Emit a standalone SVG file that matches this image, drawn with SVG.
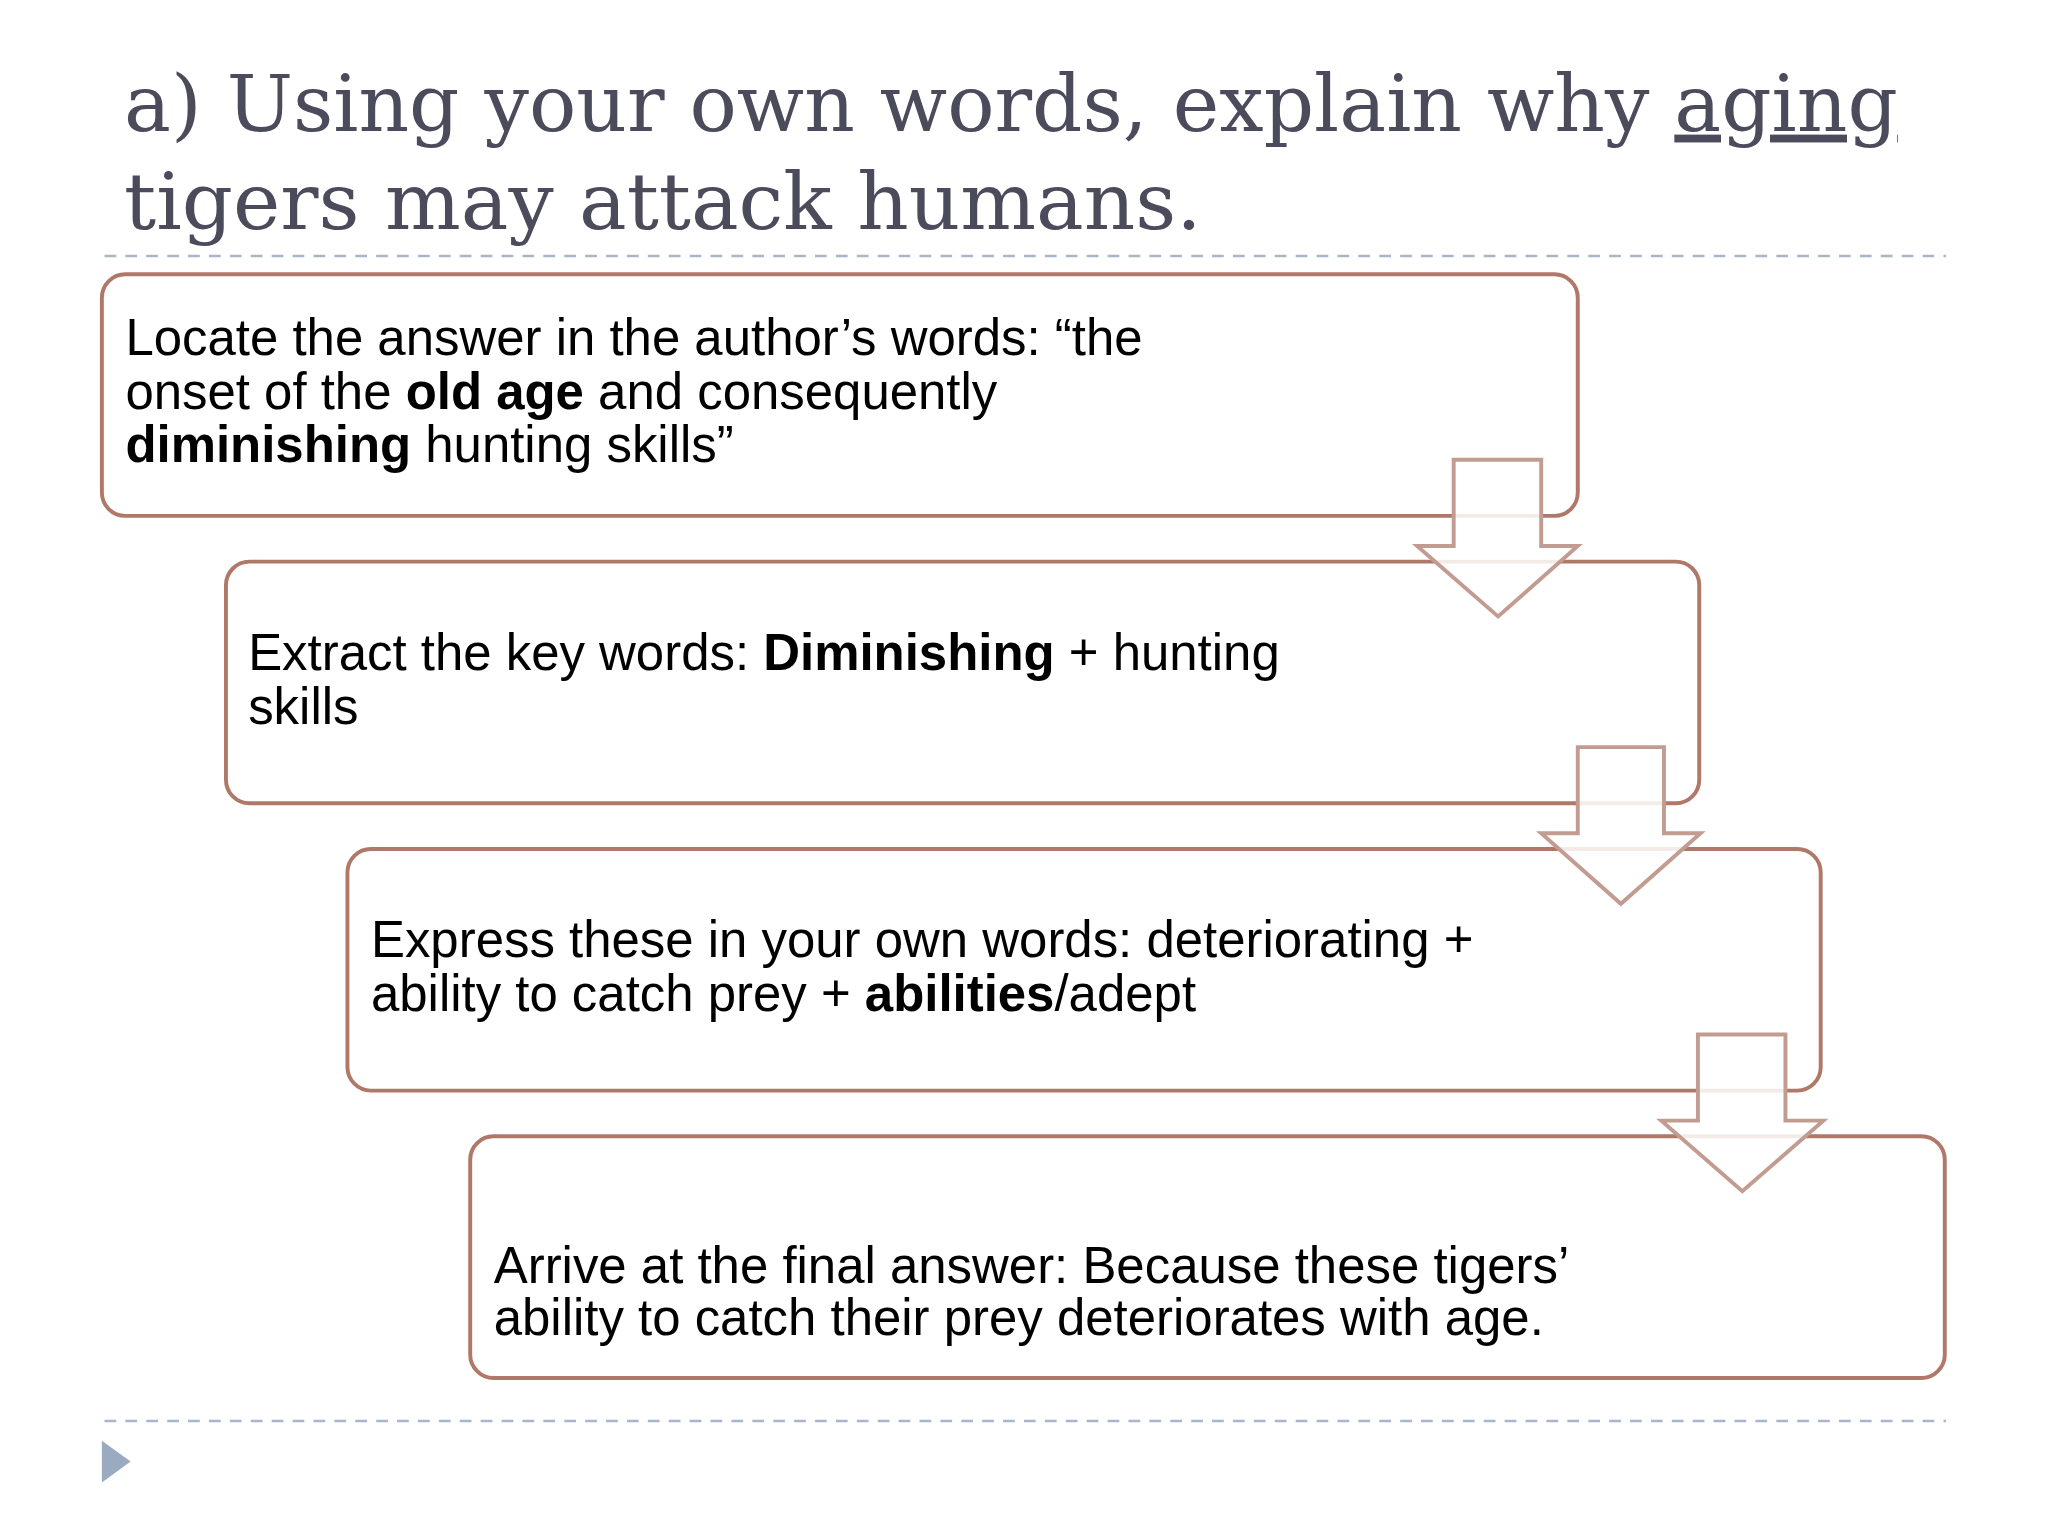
<svg xmlns="http://www.w3.org/2000/svg" width="2048" height="1536" viewBox="0 0 2048 1536">
<style>
.t{font-family:"DejaVu Serif","Liberation Serif",serif;font-size:60px;fill:#4b4b5b}
.b{fill:#fff;stroke:#b07868;stroke-width:3}
.x{font-family:"Liberation Sans",Arial,sans-serif;font-size:39px;fill:#000}
.a{fill:#fff;fill-opacity:0.85;stroke:#c29c90;stroke-width:3}
.d{stroke:#a9b6c9;stroke-width:2;stroke-dasharray:9 7}
</style>
<rect width="2048" height="1536" fill="#fff"/>
<g transform="scale(1.3061)">
<g id="title">
<text class="t" x="95" y="100" textLength="1358" lengthAdjust="spacingAndGlyphs">a) Using your own words, explain why <tspan text-decoration="underline">aging</tspan></text>
<text class="t" x="95" y="175" textLength="825" lengthAdjust="spacingAndGlyphs">tigers may attack humans.</text>
</g>
<line class="d" x1="80" y1="196" x2="1490" y2="196"/>
<line class="d" x1="80" y1="1088" x2="1490" y2="1088"/>
<polygon points="78,1103 78,1135 100,1119" fill="#9aaac0"/>
<g id="n1"><rect class="b" x="78" y="210" width="1130" height="185" rx="18"/>
<text class="x" x="96" y="272">Locate the answer in the author’s words:  “the</text>
<text class="x" x="96" y="313">onset of the <tspan font-weight="bold">old age</tspan> and consequently</text>
<text class="x" x="96" y="354"><tspan font-weight="bold">diminishing</tspan> hunting skills”</text></g>
<g id="n2"><rect class="b" x="173" y="430" width="1128" height="185" rx="18"/>
<text class="x" x="190" y="513">Extract the key words: <tspan font-weight="bold">Diminishing</tspan> + hunting</text>
<text class="x" x="190" y="554">skills</text></g>
<g id="n3"><rect class="b" x="266" y="650" width="1128" height="185" rx="18"/>
<text class="x" x="284" y="733">Express these in your own words: deteriorating +</text>
<text class="x" x="284" y="774">ability to catch prey + <tspan font-weight="bold">abilities</tspan>/adept</text></g>
<g id="n4"><rect class="b" x="360" y="870" width="1129" height="185" rx="18"/>
<text class="x" x="378" y="982">Arrive at the final answer:  Because these tigers’</text>
<text class="x" x="378" y="1022">ability to catch their prey deteriorates with age.</text></g>
<g id="connectors">
<polygon class="a" points="1113,352 1180,352 1180,418 1208,418 1147,472 1085,418 1113,418"/>
<polygon class="a" points="1208,572 1274,572 1274,638 1302,638 1241,692 1180,638 1208,638"/>
<polygon class="a" points="1300,792 1367,792 1367,858 1396,858 1334,912 1272,858 1300,858"/>
</g>
</g>
</svg>
